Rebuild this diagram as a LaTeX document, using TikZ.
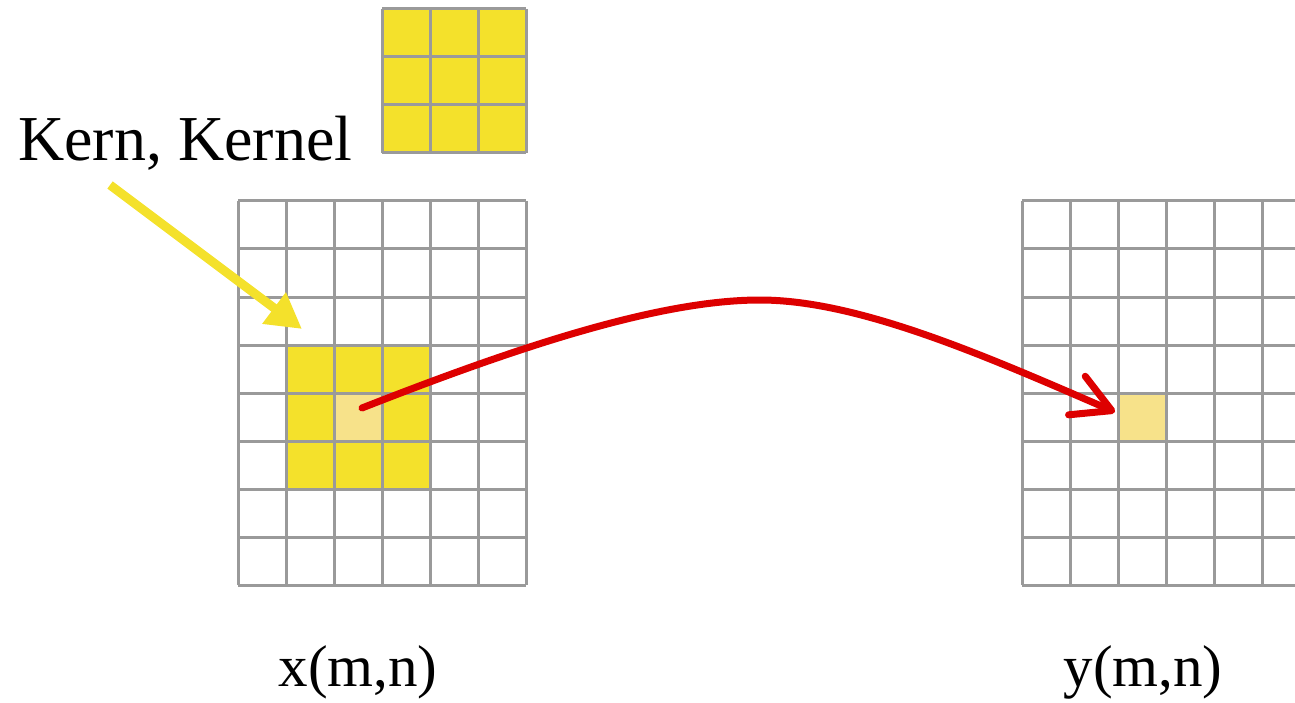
\documentclass[tikz,border=0pt]{standalone}
\usepackage{fontspec}
\setmainfont{Liberation Serif}
\usetikzlibrary{arrows.meta}
\definecolor{gridgray}{HTML}{9A9A9A}
\definecolor{kyellow}{HTML}{F4E12B}
\definecolor{lyellow}{HTML}{F7E28A}
\definecolor{ared}{HTML}{DD0000}
\begin{document}
\begin{tikzpicture}[x=1pt,y=-1pt,
  gridline/.style={draw=gridgray,line width=3pt},
  label/.style={font=\fontsize{59}{59}\selectfont,inner sep=0pt,anchor=base},
  yarrow/.style={draw=kyellow,line width=9pt,-{Triangle[length=35pt,width=37pt]}},
  rarrow/.style={draw=ared,line width=7pt,line cap=round,-{Straight Barb[length=38pt,width=42pt,line cap=round,line join=round]}}]
\useasboundingbox (0,0) rectangle (1295,703);
% fills
\fill[kyellow] (382,9) rectangle (526,153);
\fill[kyellow] (286,345) rectangle (430,489);
\fill[lyellow] (334,393) rectangle (382,441);
\fill[lyellow] (1118,393) rectangle (1166,441);
% kernel grid
\foreach \i in {0,...,3}{
  \draw[gridline] (382+48*\i,9) -- (382+48*\i,153);
  \draw[gridline] (382,9+48*\i) -- (526,9+48*\i);
}
% left grid
\foreach \i in {0,...,6}{\draw[gridline] (238+48*\i,201) -- (238+48*\i,585);}
\foreach \j in {0,...,8}{\draw[gridline] (238,201+48*\j) -- (526,201+48*\j);}
% right grid
\foreach \i in {0,...,5}{\draw[gridline] (1022+48*\i,201) -- (1022+48*\i,585);}
\foreach \j in {0,...,8}{\draw[gridline] (1022,201+48*\j) -- (1295,201+48*\j);}
% labels
\node[label,anchor=base west,font=\fontsize{64}{64}\selectfont] (kern) at (18,161) {Kern, Kernel};
\node[label] (xl) at (358,686) {x(m,n)};
\node[label] (yl) at (1143,686) {y(m,n)};
% arrows
\coordinate (ystart) at (110,185);
\coordinate (ytip) at (302,329);
\draw[yarrow] (ystart) -- (ytip);
\coordinate (src) at (362,408);
\coordinate (peak) at (760,300);
\coordinate (dst) at (1115,412);
\draw[rarrow] (src) .. controls (520,346) and (660,300) .. (peak)
  .. controls (860,300) and (990,358) .. (dst);
\end{tikzpicture}
\end{document}
